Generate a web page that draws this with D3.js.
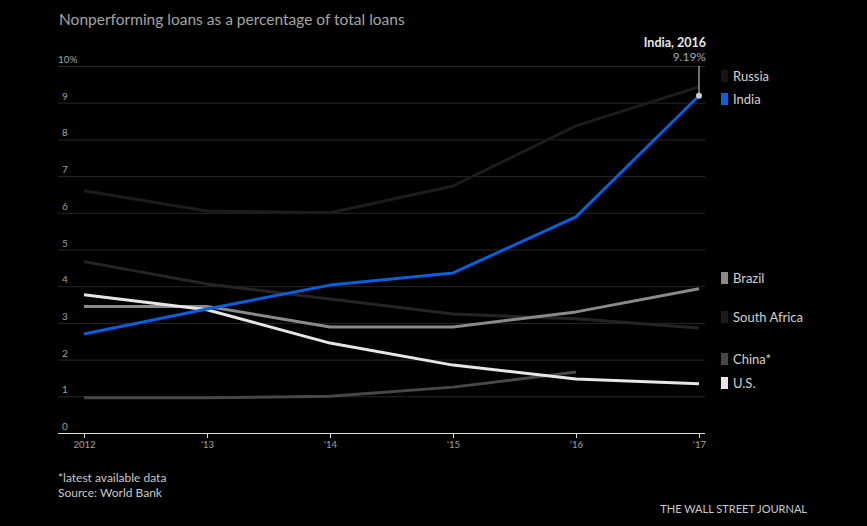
<!DOCTYPE html>
<html>
<head>
<meta charset="utf-8">
<script src="https://cdn.jsdelivr.net/npm/d3@7"></script>
<style>
  body { margin: 0; background: #000; }
  svg { display: block; font-family: Lato, "Open Sans", sans-serif; }
</style>
</head>
<body>
<svg id="chart" width="867" height="526"></svg>
<script>
var years = [2012, 2013, 2014, 2015, 2016, 2017];
var yearLabels = ["2012", "'13", "'14", "'15", "'16", "'17"];
var yTicks = [0, 1, 2, 3, 4, 5, 6, 7, 8, 9, 10];

var russia = [6.6, 6.05, 6.0, 6.73, 8.37, 9.43];
var india = [2.7, 3.38, 4.03, 4.36, 5.89, 9.19];
var brazil = [3.45, 3.45, 2.89, 2.89, 3.3, 3.93];
var southAfrica = [4.67, 4.06, 3.65, 3.24, 3.11, 2.86];
var china = [0.96, 0.96, 1.0, 1.25, 1.66];
var us = [3.77, 3.36, 2.45, 1.85, 1.47, 1.34];

var series = [
	{ name: "Russia", values: russia, color: "#1c1c1c", legendY: 76 },
	{ name: "South Africa", values: southAfrica, color: "#242424", legendY: 317 },
	{ name: "China*", values: china, color: "#474747", legendY: 359 },
	{ name: "Brazil", values: brazil, color: "#8a8a8a", legendY: 278 },
	{ name: "U.S.", values: us, color: "#e6e6e6", legendY: 383 },
	{ name: "India", values: india, color: "#0a5fdc", legendY: 99 }
];

var svg = d3.select("#chart");
var plotLeft = 58, plotRight = 705, plotTop = 66, plotBottom = 433;

var x = d3.scaleLinear().domain([2012, 2017]).range([84, 699]);
var y = d3.scaleLinear().domain([0, 10]).range([plotBottom, plotTop]);

svg.append("rect").attr("width", 867).attr("height", 526).attr("fill", "#000");

// title
svg.append("text")
	.attr("x", 59).attr("y", 25)
	.attr("fill", "#a4a4a4")
	.attr("font-size", "15.5px")
	.text("Nonperforming loans as a percentage of total loans");

/* grid */
svg.append("g").selectAll("line")
	.data(yTicks.slice(1))
	.enter().append("line")
	.attr("x1", plotLeft).attr("x2", plotRight)
	.attr("y1", function(d) { return y(d) + 0.5; })
	.attr("y2", function(d) { return y(d) + 0.5; })
	.attr("stroke", "#262626")
	.attr("stroke-width", 1);

svg.append("g").selectAll("text")
	.data(yTicks)
	.enter().append("text")
	.attr("x", function(d) { return d === 10 ? 58 : 62; })
	.attr("y", function(d) { return y(d) - 3; })
	.attr("fill", "#a0a0a0")
	.attr("font-size", "10px")
	.text(function(d) { return d === 10 ? "10%" : d; });

/* x axis */
var xAxis = d3.axisBottom(x)
	.tickValues(years)
	.tickSize(5)
	.tickFormat(function(d, i) { return yearLabels[i]; });

var gx = svg.append("g")
	.attr("transform", "translate(0," + plotBottom + ")")
	.call(xAxis);
gx.select(".domain").remove();
gx.selectAll(".tick line").attr("stroke", "#ddd");
gx.selectAll(".tick text")
	.attr("fill", "#a0a0a0")
	.attr("font-size", "9.5px")
	.attr("font-family", "Lato, sans-serif")
	.attr("y", 8);
svg.append("line")
	.attr("x1", plotLeft).attr("x2", plotRight)
	.attr("y1", plotBottom + 0.5).attr("y2", plotBottom + 0.5)
	.attr("stroke", "#ddd")
	.attr("stroke-width", 1);

/* lines */
var line = d3.line()
	.x(function(d, i) { return x(years[i]); })
	.y(function(d) { return y(d); });

svg.append("g").selectAll("path")
	.data(series)
	.enter().append("path")
	.attr("d", function(d) { return line(d.values); })
	.attr("fill", "none")
	.attr("stroke", function(d) { return d.color; })
	.attr("stroke-width", 3)
	.attr("stroke-linejoin", "round");

/* legend */
var leg = svg.append("g").selectAll("g")
	.data(series)
	.enter().append("g")
	.attr("transform", function(d) { return "translate(721," + d.legendY + ")"; });
leg.append("rect")
	.attr("x", 0).attr("y", -6)
	.attr("width", 7).attr("height", 12)
	.attr("fill", function(d) { return d.name === "Russia" ? "#151515" : d.name === "South Africa" ? "#1c1c1c" : d.color; });
leg.append("text")
	.attr("x", 12).attr("y", 5)
	.attr("fill", "#d0d0d0")
	.attr("font-size", "13px")
	.text(function(d) { return d.name; });

/* annotation */
var last = india[india.length - 1];
svg.append("line")
	.attr("x1", x(2017)).attr("x2", x(2017))
	.attr("y1", plotTop).attr("y2", y(last))
	.attr("stroke", "#ddd")
	.attr("stroke-width", 1);
svg.append("circle")
	.attr("cx", x(2017)).attr("cy", y(last))
	.attr("r", 3)
	.attr("fill", "#ccc");
svg.append("text")
	.attr("x", 706).attr("y", 47)
	.attr("text-anchor", "end")
	.attr("fill", "#e6e6e6")
	.attr("font-size", "12.5px")
	.attr("font-weight", "bold")
	.text("India, 2016");
svg.append("text")
	.attr("x", 706).attr("y", 61)
	.attr("text-anchor", "end")
	.attr("fill", "#a8a8a8")
	.attr("font-size", "12px")
	.text(last + "%");

/* footer */
svg.append("text")
	.attr("x", 58).attr("y", 482)
	.attr("fill", "#c8c8c8").attr("font-size", "12px")
	.text("*latest available data");
svg.append("text")
	.attr("x", 58).attr("y", 497)
	.attr("fill", "#c8c8c8").attr("font-size", "12px")
	.text("Source: World Bank");
svg.append("text")
	.attr("x", 807).attr("y", 513)
	.attr("text-anchor", "end")
	.attr("fill", "#c8c8c8").attr("font-size", "11px")
	.text("THE WALL STREET JOURNAL");
</script>
</body>
</html>
